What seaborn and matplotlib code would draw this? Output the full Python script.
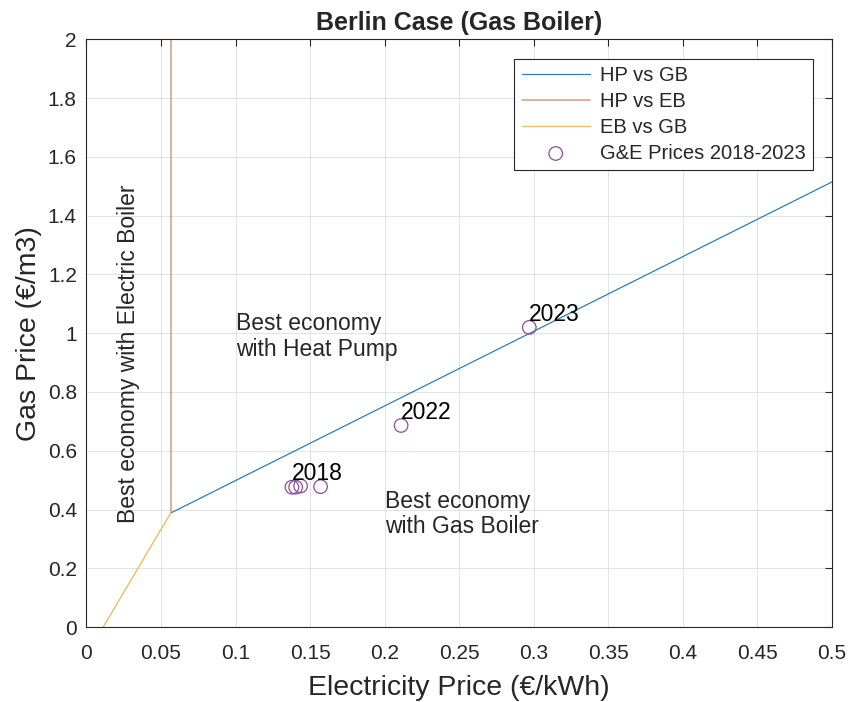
import matplotlib
matplotlib.use("Agg")
import matplotlib.pyplot as plt
import seaborn as sns
import pandas as pd

# Indifference boundaries between heating technologies (x: €/kWh, y: €/m3)
hp_gb_x = [0.0565, 0.5]
hp_gb_y = [0.388, 1.515]
hp_eb_x = [0.0565, 0.0565]
hp_eb_y = [0.388, 2.0]
eb_gb_x = [0.0112, 0.0565]
eb_gb_y = [0.0, 0.388]

# Observed gas and electricity prices
years = [2018, 2019, 2020, 2021, 2022, 2023]
elec_prices = [0.1378, 0.1403, 0.1436, 0.1570, 0.2110, 0.2970]
gas_prices = [0.476, 0.476, 0.480, 0.478, 0.686, 1.020]
labelled_years = [2018, 2022, 2023]

x_ticks = [0, 0.05, 0.1, 0.15, 0.2, 0.25, 0.3, 0.35, 0.4, 0.45, 0.5]
y_ticks = [0, 0.2, 0.4, 0.6, 0.8, 1, 1.2, 1.4, 1.6, 1.8, 2]

sns.set_style("white")
plt.rcParams["font.family"] = ["Liberation Sans", "DejaVu Sans"]

c_blue, c_orange, c_yellow, c_purple = "#2a80ba", "#d69a7a", "#e8c15c", "#8b4f98"
ink = "#262626"

fig = plt.figure(figsize=(8.52, 7.02), dpi=100)
ax = fig.add_axes([0.1015, 0.1068, 0.875, 0.837])

sns.lineplot(x=hp_gb_x, y=hp_gb_y, estimator=None, sort=False, color=c_blue,
             linewidth=0.9, label="HP vs GB", ax=ax)
sns.lineplot(x=hp_eb_x, y=hp_eb_y, estimator=None, sort=False, color=c_orange,
             linewidth=1.1, label="HP vs EB", ax=ax)
sns.lineplot(x=eb_gb_x, y=eb_gb_y, estimator=None, sort=False, color=c_yellow,
             linewidth=1.0, label="EB vs GB", ax=ax)

prices = pd.DataFrame({"year": years, "elec": elec_prices, "gas": gas_prices})
sns.scatterplot(data=prices, x="elec", y="gas", marker="o", s=95,
                facecolors="none", edgecolor=c_purple, linewidth=0.9,
                label="G&E Prices 2018-2023", ax=ax, zorder=3)

for yr, xe, yg in zip(years, elec_prices, gas_prices):
    if yr in labelled_years:
        ax.text(xe, yg + 0.045, str(yr), fontsize=16.5, ha="left", va="center",
                color="black")

ax.text(0.1, 0.99, "Best economy\nwith Heat Pump", fontsize=16.5, ha="left",
        va="center", linespacing=1.15)
ax.text(0.2, 0.385, "Best economy\nwith Gas Boiler", fontsize=16.5, ha="left",
        va="center", linespacing=1.15)
ax.text(0.0285, 0.93, "Best economy with Electric Boiler", fontsize=16.5,
        rotation=90, ha="center", va="center")

ax.set_xlim(0, 0.5)
ax.set_ylim(0, 2)
ax.set_xticks(x_ticks)
ax.set_yticks(y_ticks)
ax.set_xticklabels([f"{t:g}" for t in x_ticks])
ax.set_yticklabels([f"{t:g}" for t in y_ticks])
ax.tick_params(direction="in", length=5, width=0.8, labelsize=15,
               colors=ink, top=True, right=True)
ax.tick_params(axis="x", pad=12)
ax.tick_params(axis="y", pad=7)
ax.grid(True, color="#e3e3e3", linewidth=0.7)
for s in ax.spines.values():
    s.set_color(ink)
    s.set_linewidth(0.8)
    s.set_visible(True)

ax.set_xlabel("Electricity Price (€/kWh)", fontsize=20.5, color=ink, labelpad=9)
ax.set_ylabel("Gas Price (€/m3)", fontsize=20.5, color=ink, labelpad=4)
ax.set_title("Berlin Case (Gas Boiler)", fontsize=18, fontweight="bold", pad=7)

leg = ax.legend(loc="upper right", fontsize=14.5, frameon=True, fancybox=False,
                framealpha=1, edgecolor=ink, borderaxespad=0.95,
                handlelength=3.4, handletextpad=0.5, labelspacing=0.35,
                borderpad=0.35)
leg.get_frame().set_linewidth(0.8)

fig.savefig("out.png", dpi=100)
